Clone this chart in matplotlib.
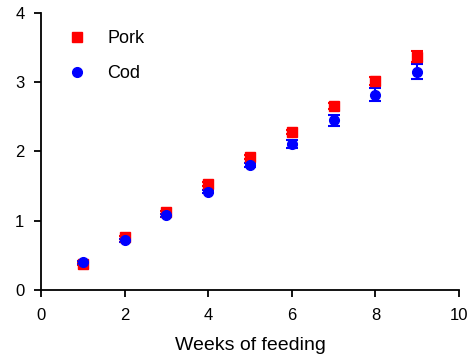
import matplotlib.pyplot as plt
from matplotlib.lines import Line2D

plt.rcParams['font.family'] = ['Liberation Sans', 'DejaVu Sans']

weeks = [1, 2, 3, 4, 5, 6, 7, 8, 9]
pork = [0.38, 0.76, 1.12, 1.53, 1.92, 2.28, 2.66, 3.02, 3.37]
pork_err = [0.02, 0.02, 0.02, 0.03, 0.03, 0.03, 0.04, 0.06, 0.08]
cod = [0.40, 0.72, 1.08, 1.42, 1.80, 2.11, 2.45, 2.82, 3.15]
cod_err = [0.02, 0.02, 0.02, 0.02, 0.03, 0.06, 0.08, 0.09, 0.11]

fig = plt.figure(figsize=(4.67, 3.59), dpi=100)
ax = fig.add_axes([0.088, 0.192, 0.895, 0.772])

ax.errorbar(weeks, pork, yerr=pork_err, fmt='s', color='#ff0000', ms=6.5,
            capsize=4, elinewidth=1.5, capthick=1.5)
ax.errorbar(weeks, cod, yerr=cod_err, fmt='o', color='#0000ff', ms=7,
            capsize=4, elinewidth=1.5, capthick=1.5)

ax.set_xlim(0, 10)
ax.set_ylim(0, 4)
ax.set_xticks([0, 2, 4, 6, 8, 10])
ax.set_yticks([0, 1, 2, 3, 4])
ax.spines['top'].set_visible(False)
ax.spines['right'].set_visible(False)
for s in ['left', 'bottom']:
    ax.spines[s].set_linewidth(1.3)
ax.tick_params(direction='out', length=5, width=1.3, labelsize=12)
ax.tick_params(axis='x', pad=8)
ax.tick_params(axis='y', pad=7)
ax.set_xlabel('Weeks of feeding', fontsize=14, labelpad=10)

handles = [Line2D([], [], marker='s', ls='none', color='#ff0000', ms=6.5),
           Line2D([], [], marker='o', ls='none', color='#0000ff', ms=7)]
ax.legend(handles, ['Pork', 'Cod'], loc='upper left',
          bbox_to_anchor=(0.025, 0.997), frameon=False, fontsize=13,
          handlelength=1.0, handletextpad=1.2, labelspacing=1.0)

fig.savefig('out.png', dpi=100)
